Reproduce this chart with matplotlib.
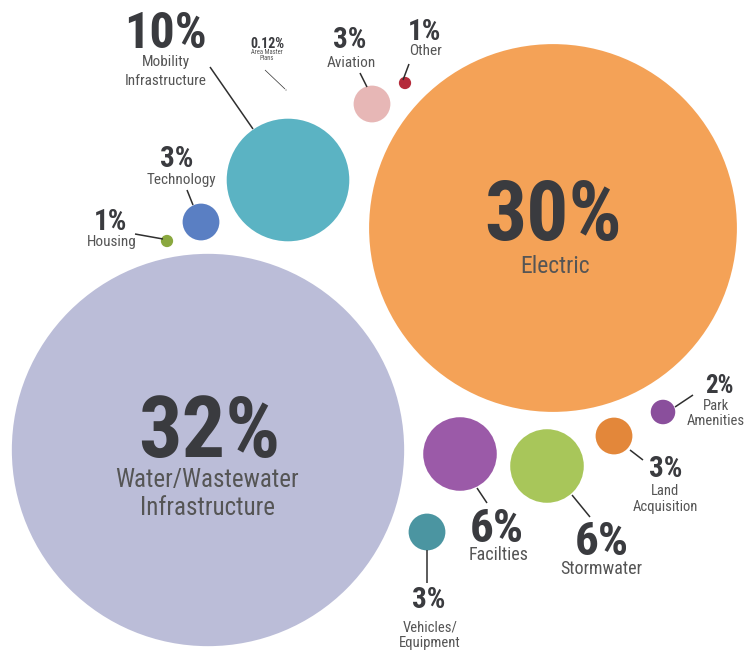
import matplotlib
matplotlib.use("Agg")
import matplotlib.pyplot as plt
from matplotlib.patches import Circle
from matplotlib import font_manager as fm

# ---------------- data ----------------
categories = ["Water/Wastewater\nInfrastructure", "Electric", "Mobility\nInfrastructure",
              "Facilties", "Stormwater", "Technology", "Aviation", "Land\nAcquisition",
              "Vehicles/\nEquipment", "Park\nAmenities", "Housing", "Other",
              "Area Master\nPlans"]
values = [32, 30, 10, 6, 6, 3, 3, 3, 3, 2, 1, 1, 0.12]
colors = ["#bbbdd8", "#f4a257", "#5bb3c3", "#9b5aa8", "#a8c65a", "#5a7fc3", "#e7b7b6",
          "#e3873a", "#4b95a1", "#8a4f9c", "#8aa83f", "#b52a3a", "#999999"]

# ---------------- layout (pixel space) ----------------
PX_PER_PCT = 6.13
centers = [(208, 450), (553, 228), (288, 180), (460, 454), (547, 466), (201, 222),
           (372, 104), (614, 436), (427, 532), (663, 412), (167, 241), (405, 83),
           (286, 90)]
# number text: (x, baseline y, fontsize)
num_pos = [(209, 457, 62), (553, 240, 60), (165, 48, 36), (497, 542, 34), (602, 555, 34),
           (177, 167, 21), (350, 48, 21), (666, 477, 21), (429, 608, 21), (719, 393, 18),
           (111, 230, 21), (425, 40, 21), (267, 48, 10)]
# label text: (x, first baseline y, fontsize, line spacing px)
lab_pos = [(207, 487, 18, 28), (555, 273, 17, 20), (166, 66, 11, 19), (499, 560, 13, 18),
           (601, 574, 13, 18), (181, 184, 11, 18), (351, 67, 11, 18), (665, 495, 10.5, 16),
           (430, 631, 10.5, 16), (716, 410, 10.5, 15), (112, 246, 11, 16), (425, 55, 11, 16),
           (267, 54, 4.8, 6)]
# leader lines
leaders = [None, None, ((210, 67), (253, 129)), ((477, 488), (487, 503)),
           ((572, 495), (590, 517)), ((187, 190), (193, 205)), ((360, 73), (367, 87)),
           ((630, 450), (643, 460)), ((427, 550), (427, 583)), ((675, 407), (693, 395)),
           ((135, 234), (163, 239)), ((409, 64), (403, 80)), ((265, 70), (285, 89))]


def pick(names):
    for n in names:
        try:
            fm.findfont(fm.FontProperties(family=n), fallback_to_default=False)
            return n
        except Exception:
            pass
    return "DejaVu Sans"


FONT = pick(["Liberation Sans Narrow", "Roboto Condensed", "DejaVu Sans"])
NUM_COLOR = "#3a3b3f"
LAB_COLOR = "#555555"

fig = plt.figure(figsize=(7.49, 6.52), dpi=100)
ax = fig.add_axes([0, 0, 1, 1])
ax.set_xlim(0, 749)
ax.set_ylim(652, 0)
ax.set_aspect("equal")
ax.axis("off")

for i, (cat, v) in enumerate(zip(categories, values)):
    cx, cy = centers[i]
    ax.add_patch(Circle((cx, cy), v * PX_PER_PCT, facecolor=colors[i], edgecolor="none", zorder=1))
    if leaders[i] is not None:
        (x0, y0), (x1, y1) = leaders[i]
        ax.plot([x0, x1], [y0, y1], color="#2f2f2f", lw=1.1 if v >= 0.5 else 0.5,
                solid_capstyle="butt", zorder=2)
    nx, ny, nfs = num_pos[i]
    ax.text(nx, ny, f"{v:g}%", ha="center", va="baseline", fontsize=nfs, fontweight="bold",
            color=NUM_COLOR, family=FONT, zorder=3)
    lx, ly, lfs, lsp = lab_pos[i]
    for j, line in enumerate(cat.split("\n")):
        ax.text(lx, ly + j * lsp, line, ha="center", va="baseline", fontsize=lfs,
                color=LAB_COLOR, family=FONT, zorder=3)

fig.savefig("out.png", dpi=100, facecolor="white")
